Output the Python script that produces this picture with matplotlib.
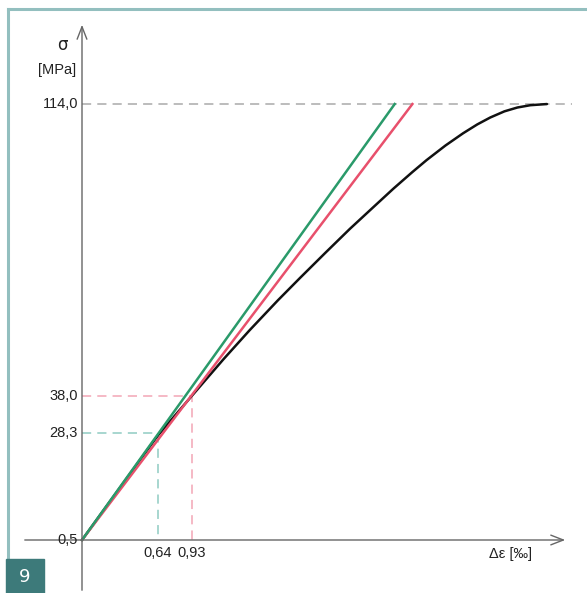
import numpy as np
import matplotlib.pyplot as plt
from matplotlib.lines import Line2D
from matplotlib.patches import Rectangle

# strain (permille) / stress (MPa) curves
x_green = [0.0, 2.65]
y_green = [0.5, 114.0]
x_red = [0.0, 2.80]
y_red = [0.5, 114.0]
x_black = [0.0, 0.30, 0.64, 0.93, 1.20, 1.42, 1.66, 1.85, 2.06, 2.27, 2.46,
           2.64, 2.80, 2.92, 3.08, 3.23, 3.35, 3.46, 3.58, 3.69, 3.80, 3.94]
y_black = [0.5, 13.2, 27.6, 38.0, 47.6, 55.1, 62.9, 68.8, 75.2, 81.5, 86.9,
           92.0, 96.3, 99.4, 103.2, 106.4, 108.7, 110.5, 112.1, 113.1, 113.7, 114.0]

y_ticks = [0.5, 28.3, 38.0, 114.0]
y_labels = ['0,5', '28,3', '38,0', '114,0']
x_ticks = [0.64, 0.93]
x_labels = ['0,64', '0,93']

# pixel mapping of the original: x px = 82 + 118*x, y px = 540 - 3.841*(y-0.5)
W, H = 587, 593
sx, sy = 118.0, 3.841
x0, y0 = 82, 540

fig = plt.figure(figsize=(W / 100, H / 100), dpi=100)
ax = fig.add_axes([0, 0, 1, 1])
ax.set_xlim(-x0 / sx, (W - x0) / sx)
ax.set_ylim(0.5 - (H - y0) / sy, 0.5 + y0 / sy)
ax.axis('off')

font = ['Liberation Sans Narrow', 'Liberation Sans', 'DejaVu Sans']
tc = '#222222'

# frame and badge
fig.add_artist(Line2D([7.5 / W, 7.5 / W], [1 - 8.5 / H, 0], color='#93bfbf', lw=2.2))
fig.add_artist(Line2D([7.5 / W, 1], [1 - 8.5 / H, 1 - 8.5 / H], color='#93bfbf', lw=2.2))
fig.add_artist(Rectangle((6 / W, 0), 38 / W, 34 / H, transform=fig.transFigure,
                         color='#3d7a7a', zorder=5))
fig.text(25 / W, 16 / H, '9', color='white', fontsize=13, ha='center', va='center',
         family='DejaVu Sans', zorder=6)

# axes with open arrows
ax.annotate('', xy=(0, 0.5 + (y0 - 22) / sy), xytext=(0, 0.5 - (H - y0) / sy),
            arrowprops=dict(arrowstyle='->,head_length=0.9,head_width=0.35',
                            color='#666666', lw=1.0))
ax.annotate('', xy=((568 - x0) / sx, 0.5), xytext=((22 - x0) / sx, 0.5),
            arrowprops=dict(arrowstyle='->,head_length=0.9,head_width=0.35',
                            color='#666666', lw=1.0))

# guide lines
ax.plot([0, (572 - x0) / sx], [114, 114], color='#aaaaaa', lw=1.1, dashes=(6, 4))
ax.plot([0, 0.93, 0.93], [38, 38, 0.5], color='#f2a5b5', lw=1.1, dashes=(6, 4))
ax.plot([0, 0.64, 0.64], [28.3, 28.3, 0.5], color='#8fcbc2', lw=1.1, dashes=(6, 4))

# curves
ax.plot(x_black, y_black, color='#111111', lw=1.8, solid_capstyle='round',
        solid_joinstyle='round')
ax.plot(x_red, y_red, color='#e8506c', lw=1.8)
ax.plot(x_green, y_green, color='#2a9a6a', lw=1.8)

# labels
for v, s in zip(y_ticks, y_labels):
    ax.text(-4 / sx, v, s, ha='right', va='center', fontsize=10.5, family=font, color=tc)
for v, s in zip(x_ticks, x_labels):
    ax.text(v, 0.5 - 13 / sy, s, ha='center', va='center', fontsize=10.5, family=font, color=tc)

ax.text(-20 / sx, 0.5 + (y0 - 45) / sy, 'σ', ha='center', va='center', fontsize=12, color=tc)
ax.text(-25 / sx, 0.5 + (y0 - 70) / sy, '[MPa]', ha='center', va='center', fontsize=10.5,
        family=font, color=tc)
ax.text((510 - x0) / sx, 0.5 - 14 / sy, 'Δε [‰]', ha='center', va='center', fontsize=10.5,
        family=font, color=tc)

fig.savefig('out.png', dpi=100)
